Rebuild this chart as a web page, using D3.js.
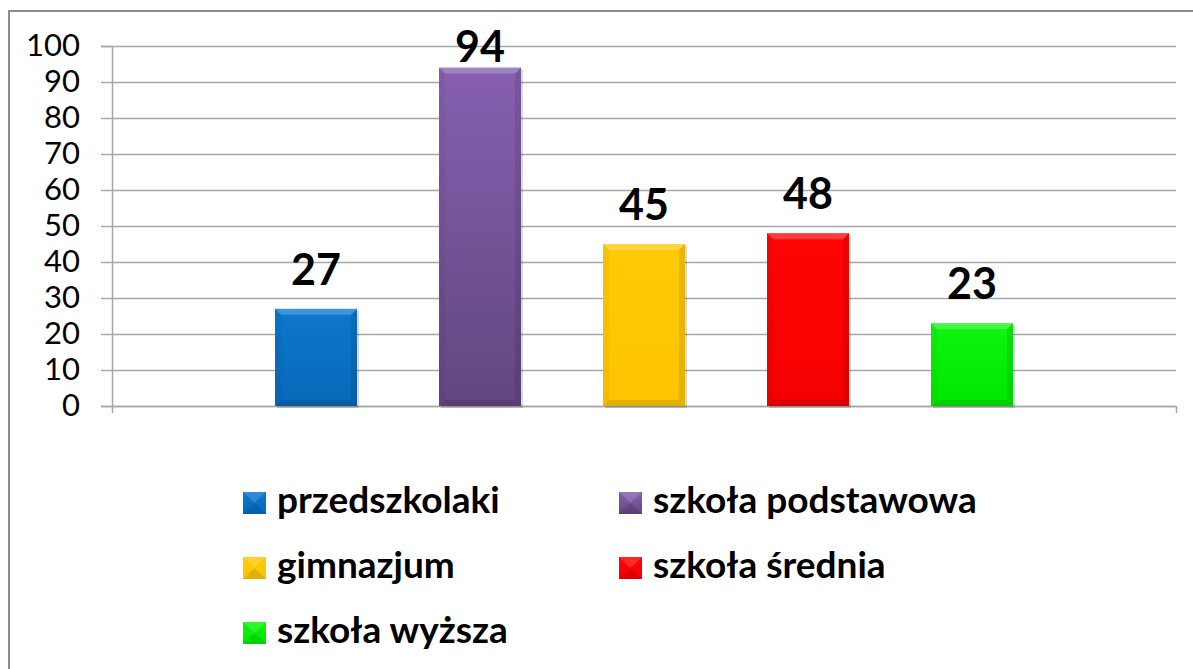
<!DOCTYPE html>
<html>
<head>
<meta charset="utf-8">
<script src="https://cdn.jsdelivr.net/npm/d3@7"></script>
<style>
  body { margin: 0; background: #fff; }
  svg { display: block; }
</style>
</head>
<body>
<div id="chart"></div>
<script>
const seriesNames = ["przedszkolaki", "szkoła podstawowa", "gimnazjum", "szkoła średnia", "szkoła wyższa"];
const seriesValues = [27, 94, 45, 48, 23];
const seriesColorsTop = ["#0c78cc", "#8660b0", "#ffcb05", "#ff0505", "#10f510"];
const seriesColorsBottom = ["#0868b8", "#62467f", "#fcc400", "#f40000", "#00e600"];
const yTicks = [0, 10, 20, 30, 40, 50, 60, 70, 80, 90, 100];

function drawChart(containerId) {
    const W = 1193, H = 669;
    const margin = { top: 46, right: 17, bottom: 263, left: 112 },
        width = W - margin.left - margin.right,
        height = H - margin.top - margin.bottom;

    d3.select(`#${containerId}`).selectAll("*").remove();

    const root = d3.select(`#${containerId}`)
        .append("svg")
        .attr("width", W)
        .attr("height", H);

    // outer chart border (runs off the right / bottom edge)
    root.append("rect")
        .attr("x", 9).attr("y", 11)
        .attr("width", W).attr("height", H)
        .attr("fill", "none")
        .attr("stroke", "#8c8c8c")
        .attr("stroke-width", 2);

    const defs = root.append("defs");
    seriesNames.forEach((n, i) => {
        const g = defs.append("linearGradient")
            .attr("id", `grad${i}`)
            .attr("x1", 0).attr("y1", 0).attr("x2", 0).attr("y2", 1);
        g.append("stop").attr("offset", "0%").attr("stop-color", seriesColorsTop[i]);
        g.append("stop").attr("offset", "100%").attr("stop-color", seriesColorsBottom[i]);
    });

    const svg = root.append("g")
        .attr("transform", `translate(${margin.left},${margin.top})`);

    const y = d3.scaleLinear().domain([0, 100]).range([height, 0]);
    const x = d3.scaleBand()
        .domain(seriesNames)
        .range([0, width])
        .paddingInner(0.5)
        .paddingOuter(0.994);

    // gridlines
    svg.append("g")
        .attr("class", "grid")
        .call(d3.axisLeft(y).tickValues(yTicks).tickSize(-width).tickFormat(""))
        .call(g => g.select(".domain").remove())
        .call(g => g.selectAll("line").attr("stroke", "#a6a6a6").attr("stroke-width", 1.5));

    svg.append("g")
        .call(d3.axisLeft(y).tickValues(yTicks).tickSize(11).tickPadding(21))
        .call(g => g.select(".domain").attr("stroke", "#a6a6a6").attr("stroke-width", 1.5))
        .call(g => g.selectAll("line").attr("stroke", "#a6a6a6").attr("stroke-width", 1.5))
        .call(g => g.selectAll("text")
            .attr("font-family", "Lato, 'Open Sans', sans-serif")
            .attr("font-size", 31)
            .attr("fill", "#000"));

    // x axis line with end ticks
    const xEnds = d3.scaleLinear().domain([0, 1]).range([0, width]);
    svg.append("g")
        .attr("transform", `translate(0,${height})`)
        .call(d3.axisBottom(xEnds).tickValues([0, 1]).tickSize(7).tickFormat("").tickSizeOuter(0))
        .call(g => g.select(".domain").attr("stroke", "#a6a6a6").attr("stroke-width", 1.5))
        .call(g => g.selectAll("line").attr("stroke", "#a6a6a6").attr("stroke-width", 1.5));

    const data = seriesNames.map((n, i) => ({ name: n, value: seriesValues[i], i }));
    const bev = 6;

    const bars = svg.selectAll(".bar")
        .data(data)
        .join("g")
        .attr("class", "bar");

    bars.append("rect")
        .attr("x", d => x(d.name) + 2)
        .attr("y", d => y(d.value) + 2)
        .attr("width", x.bandwidth())
        .attr("height", d => height - y(d.value))
        .attr("fill", "rgba(0,0,0,0.15)");

    bars.append("rect")
        .attr("x", d => x(d.name))
        .attr("y", d => y(d.value))
        .attr("width", x.bandwidth())
        .attr("height", d => height - y(d.value))
        .attr("fill", d => `url(#grad${d.i})`);

    // bevel edges
    const bevelPoly = (d, side) => {
        const x0 = x(d.name), x1 = x0 + x.bandwidth();
        const y0 = y(d.value), y1 = height;
        if (side === "top") return [[x0, y0], [x1, y0], [x1 - bev, y0 + bev], [x0 + bev, y0 + bev]];
        if (side === "bottom") return [[x0, y1], [x1, y1], [x1 - bev, y1 - bev], [x0 + bev, y1 - bev]];
        if (side === "left") return [[x0, y0], [x0 + bev, y0 + bev], [x0 + bev, y1 - bev], [x0, y1]];
        return [[x1, y0], [x1 - bev, y0 + bev], [x1 - bev, y1 - bev], [x1, y1]];
    };
    const bevelFill = { top: "rgba(255,255,255,0.22)", bottom: "rgba(0,0,0,0.1)", left: "rgba(0,0,0,0.04)", right: "rgba(0,0,0,0.09)" };
    ["top", "left", "right", "bottom"].forEach(side => {
        bars.append("polygon")
            .attr("points", d => bevelPoly(d, side).map(p => p.join(",")).join(" "))
            .attr("fill", bevelFill[side]);
    });

    // data labels
    svg.selectAll(".label")
        .data(data)
        .join("text")
        .attr("class", "label")
        .attr("x", d => x(d.name) + x.bandwidth() / 2)
        .attr("y", d => Math.max(y(d.value) - 24, y(100) + 16))
        .attr("text-anchor", "middle")
        .attr("font-family", "Lato, 'Open Sans', sans-serif")
        .attr("font-weight", "bold")
        .attr("font-size", 43)
        .attr("fill", "#000")
        .text(d => d.value);

    // legend
    const legend = root.append("g");
    const colX = [243, 619], rowY = [492, 557, 622];
    const items = legend.selectAll(".leg")
        .data(data)
        .join("g")
        .attr("class", "leg")
        .attr("transform", d => `translate(${colX[d.i % 2]},${rowY[Math.floor(d.i / 2)]})`);

    items.append("rect")
        .attr("width", 23).attr("height", 22)
        .attr("fill", d => `url(#grad${d.i})`);
    items.append("polygon")
        .attr("points", "0,0 23,0 11.5,11")
        .attr("fill", "rgba(255,255,255,0.15)");
    items.append("polygon")
        .attr("points", "0,22 23,22 11.5,11")
        .attr("fill", "rgba(0,0,0,0.1)");

    items.append("text")
        .attr("x", 34)
        .attr("y", 21)
        .attr("font-family", "Lato, 'Open Sans', sans-serif")
        .attr("font-weight", "bold")
        .attr("font-size", 37)
        .attr("fill", "#000")
        .text(d => d.name);
}

drawChart("chart");
</script>
</body>
</html>
